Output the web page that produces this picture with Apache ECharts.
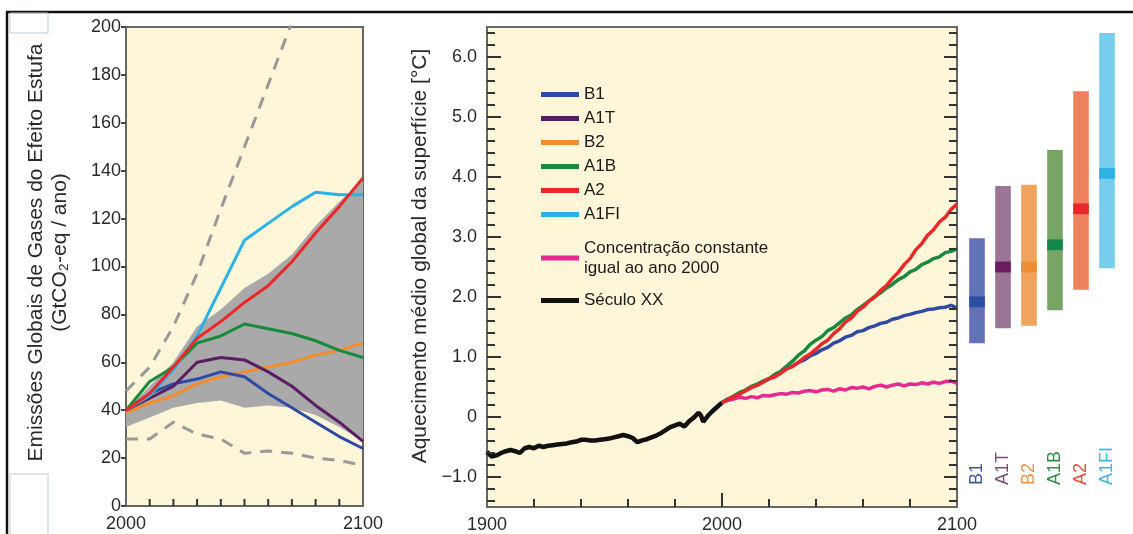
<!DOCTYPE html>
<html>
<head>
<meta charset="utf-8">
<script src="https://cdn.jsdelivr.net/npm/echarts@6/dist/echarts.min.js"></script>
<style>
  html, body { margin: 0; padding: 0; background: #fff; }
  #main { width: 1133px; height: 534px; }
</style>
</head>
<body>
<div id="main"></div>
<script>
// painel esquerdo: emissoes (GtCO2-eq / ano)
const emisYears = [2000, 2010, 2020, 2030, 2040, 2050, 2060, 2070, 2080, 2090, 2100];
const emisB1 = [40, 47, 51, 53, 56, 54, 47, 41, 35, 29, 24];
const emisA1T = [40, 45, 50, 60, 62, 61, 56, 50, 42, 35, 27];
const emisB2 = [39, 43, 46, 51, 54, 56, 58, 60, 63, 65, 68];
const emisA1B = [40, 52, 58, 68, 71, 76, 74, 72, 69, 65, 62];
const emisA2 = [40, 47, 58, 70, 77, 85, 92, 102, 114, 125, 137];
const emisA1FI = [40, 46, 57, 71, 91, 111, 118, 125, 131, 130, 130];
const bandLow = [33, 37, 41, 43, 44, 41, 42, 41, 38, 33, 27];
const bandHigh = [40, 50, 60, 75, 82, 91, 97, 105, 117, 127, 136];
const dashHighYears = [2000, 2010, 2020, 2030, 2040, 2050, 2060, 2070, 2080];
const dashHigh = [48, 58, 75, 97, 124, 150, 176, 202, 228];
const dashLow = [28, 28, 35, 30, 28, 22, 23, 22, 20, 19, 17];
const emisTickYears = [2010, 2020, 2030, 2040, 2050, 2060, 2070, 2080, 2090];

// painel central: aquecimento (graus C)
const histYears = [1900, 1902, 1904, 1906, 1908, 1910, 1912, 1914, 1916, 1918, 1920, 1922, 1924, 1926, 1928,
  1930, 1932, 1934, 1936, 1938, 1940, 1942, 1944, 1946, 1948, 1950, 1952, 1954, 1956, 1958, 1960, 1962,
  1964, 1966, 1968, 1970, 1972, 1974, 1976, 1978, 1980, 1982, 1984, 1986, 1988, 1990, 1991, 1992, 1994,
  1996, 1998, 2000];
const histTemp = [-0.58, -0.66, -0.64, -0.6, -0.57, -0.55, -0.57, -0.6, -0.52, -0.5, -0.52, -0.48, -0.5, -0.48, -0.47,
  -0.46, -0.45, -0.44, -0.42, -0.41, -0.38, -0.38, -0.39, -0.39, -0.38, -0.37, -0.36, -0.34, -0.32, -0.3, -0.32, -0.35,
  -0.42, -0.39, -0.37, -0.34, -0.31, -0.27, -0.22, -0.17, -0.14, -0.11, -0.16, -0.07, -0.01, 0.07, 0.03, -0.08, 0.02,
  0.1, 0.17, 0.24];
const projYears = [2000, 2002.5, 2005, 2007.5, 2010, 2012.5, 2015, 2017.5, 2020, 2022.5, 2025, 2027.5, 2030, 2032.5,
  2035, 2037.5, 2040, 2042.5, 2045, 2047.5, 2050, 2052.5, 2055, 2057.5, 2060, 2062.5, 2065, 2067.5, 2070, 2072.5,
  2075, 2077.5, 2080, 2082.5, 2085, 2087.5, 2090, 2092.5, 2095, 2097.5, 2100];
const tempA2 = [0.24, 0.29, 0.34, 0.38, 0.44, 0.49, 0.53, 0.58, 0.64, 0.67, 0.73, 0.8, 0.84, 0.91, 0.99, 1.05, 1.13,
  1.22, 1.28, 1.39, 1.47, 1.58, 1.65, 1.76, 1.83, 1.93, 2.0, 2.11, 2.19, 2.31, 2.41, 2.54, 2.64, 2.79, 2.89, 3.03,
  3.12, 3.25, 3.33, 3.46, 3.55];
const tempA1B = [0.24, 0.3, 0.35, 0.41, 0.45, 0.51, 0.55, 0.6, 0.64, 0.71, 0.76, 0.85, 0.93, 1.03, 1.1, 1.21, 1.28,
  1.34, 1.44, 1.49, 1.57, 1.65, 1.7, 1.79, 1.86, 1.93, 2.01, 2.07, 2.15, 2.21, 2.29, 2.34, 2.42, 2.46, 2.54, 2.58,
  2.64, 2.67, 2.74, 2.76, 2.8];
const tempB1 = [0.24, 0.3, 0.34, 0.4, 0.44, 0.5, 0.53, 0.59, 0.63, 0.7, 0.74, 0.81, 0.85, 0.91, 0.95, 1.02, 1.06,
  1.12, 1.16, 1.23, 1.27, 1.33, 1.36, 1.42, 1.44, 1.49, 1.52, 1.56, 1.58, 1.63, 1.65, 1.69, 1.71, 1.74, 1.76, 1.79,
  1.8, 1.82, 1.83, 1.86, 1.82];
const tempConst = [0.24, 0.28, 0.3, 0.33, 0.31, 0.34, 0.32, 0.36, 0.35, 0.37, 0.39, 0.38, 0.41, 0.4, 0.43, 0.44,
  0.42, 0.45, 0.46, 0.43, 0.47, 0.45, 0.49, 0.48, 0.5, 0.47, 0.51, 0.53, 0.5, 0.53, 0.55, 0.52, 0.55, 0.54, 0.57,
  0.55, 0.58, 0.56, 0.59, 0.6, 0.56];
const tempMajorTicks = [-1, 0, 1, 2, 3, 4, 5, 6];
const tempMinorTicks = [-1.4, -1.2, -0.8, -0.6, -0.4, -0.2, 0.2, 0.4, 0.6, 0.8, 1.2, 1.4, 1.6, 1.8, 2.2, 2.4,
  2.6, 2.8, 3.2, 3.4, 3.6, 3.8, 4.2, 4.4, 4.6, 4.8, 5.2, 5.4, 5.6, 5.8, 6.2, 6.4];
const yearTicks = [1920, 1940, 1960, 1980, 2000, 2020, 2040, 2060, 2080];

// barras: faixa provavel em 2090-2099
const barCats = ['B1', 'A1T', 'B2', 'A1B', 'A2', 'A1FI'];
const barLow = [1.23, 1.48, 1.52, 1.78, 2.12, 2.48];
const barHigh = [2.98, 3.85, 3.87, 4.45, 5.43, 6.4];
const barBest = [1.92, 2.5, 2.5, 2.87, 3.47, 4.06];

const FONT = "'Liberation Sans', Arial, sans-serif";
const BG = '#fdf6d8';
const C = {
  B1: '#2f4aa6', A1T: '#5b1d62', B2: '#f28c2c', A1B: '#188a3e',
  A2: '#ec2727', A1FI: '#26b4e8', CONST: '#e52b91', HIST: '#111111'
};
const rangeColors = ['#6272b6', '#9b7595', '#f0a35e', '#76a566', '#ee8260', '#78ccee'];
const bestColors = ['#2c4ea2', '#6b1b5f', '#ee8d33', '#13874a', '#e9262c', '#2db2e6'];
const labelColors = ['#3a56a8', '#7b4f7a', '#f0944a', '#2f8f47', '#ee4b3a', '#3cb8e8'];
const TEMP_MIN = -1.5, TEMP_MAX = 6.5;

const pair = (xs, ys) => ys.map((v, i) => [xs[i], v]);
const CONST_NAME = 'Concentração constante igual ao ano 2000';

const myChart = echarts.init(document.getElementById('main'));

const leftLine = (name, ys, color) => ({
  name: name, type: 'line', xAxisIndex: 0, yAxisIndex: 0, data: pair(emisYears, ys),
  showSymbol: false, color: color, lineStyle: { color: color, width: 3 }, z: 5
});
const midLine = (name, xs, ys, color, w) => ({
  name: name, type: 'line', xAxisIndex: 1, yAxisIndex: 1, data: pair(xs, ys),
  showSymbol: false, color: color, lineStyle: { color: color, width: w || 3.5 }, z: 5
});

// marcas internas: pequenos segmentos na escala dos eixos (comprimento em px convertido)
const YR_PX = 200 / 470, DEG_PX = (TEMP_MAX - TEMP_MIN) / 480, EMIS_PX = 200 / 479;
const tick = (xi, yi, p1, p2) => ({
  type: 'line', xAxisIndex: xi, yAxisIndex: yi, data: [p1, p2], showSymbol: false, silent: true,
  z: 8, lineStyle: { color: '#333', width: 2 }
});
const tickSeries = [].concat(
  tempMajorTicks.map((v) => tick(1, 1, [1900, v], [1900 + 14 * YR_PX, v])),
  tempMajorTicks.map((v) => tick(1, 1, [2100, v], [2100 - 13 * YR_PX, v])),
  tempMinorTicks.map((v) => tick(1, 1, [1900, v], [1900 + 8 * YR_PX, v])),
  tempMinorTicks.map((v) => tick(1, 1, [2100, v], [2100 - 8 * YR_PX, v])),
  yearTicks.map((y) => tick(1, 1, [y, TEMP_MIN], [y, TEMP_MIN + (y === 2000 ? 14 : 8) * DEG_PX])),
  emisTickYears.map((y) => tick(0, 0, [y, 0], [y, 7 * EMIS_PX]))
);

const tempLabel = (v) => {
  if (v === 0) return '0';
  if (!Number.isInteger(v)) return '';
  return (v < 0 ? '\u2212' : '') + Math.abs(v).toFixed(1);
};

const AXIS_LINE = { onZero: false, lineStyle: { color: '#666', width: 2 } };

const option = {
  animation: false,
  textStyle: { fontFamily: FONT },
  grid: [
    { left: 126, top: 27, width: 237, height: 479, show: true, backgroundColor: BG, borderColor: '#666', borderWidth: 2 },
    { left: 487, top: 27, width: 470, height: 480, show: true, backgroundColor: BG, borderColor: '#666', borderWidth: 2 },
    { left: 964, top: 27, width: 156, height: 480 },
    { left: 964, top: 485, width: 156, height: 10 }
  ],
  legend: [
    {
      data: ['B1', 'A1T', 'B2', 'A1B', 'A2', 'A1FI'], orient: 'vertical', left: 536, top: 81,
      itemWidth: 38, itemHeight: 5, itemGap: 7, icon: 'rect', selectedMode: false,
      textStyle: { fontFamily: FONT, fontSize: 17, color: '#1a1a1a' }
    },
    {
      data: [CONST_NAME], orient: 'vertical', left: 536, top: 223,
      itemWidth: 38, itemHeight: 5, icon: 'rect', selectedMode: false,
      formatter: () => 'Concentração constante\nigual ao ano 2000',
      textStyle: { fontFamily: FONT, fontSize: 17, lineHeight: 20, color: '#1a1a1a', padding: [20, 0, 0, 0] }
    },
    {
      data: ['Século XX'], orient: 'vertical', left: 536, top: 287,
      itemWidth: 38, itemHeight: 5, icon: 'rect', selectedMode: false,
      textStyle: { fontFamily: FONT, fontSize: 17, color: '#1a1a1a' }
    }
  ],
  xAxis: [
    {
      gridIndex: 0, type: 'value', min: 2000, max: 2100, interval: 10,
      axisLine: AXIS_LINE, axisTick: { show: false },
      axisLabel: { margin: 9, fontSize: 18, color: '#2a2a2a', formatter: (v) => (v === 2000 || v === 2100) ? String(v) : '' },
      splitLine: { show: false }
    },
    {
      gridIndex: 1, type: 'value', min: 1900, max: 2100, interval: 20,
      axisLine: AXIS_LINE, axisTick: { show: false },
      axisLabel: { margin: 9, fontSize: 18, color: '#2a2a2a', formatter: (v) => (v % 100 === 0) ? String(v) : '' },
      splitLine: { show: false }
    },
    { gridIndex: 2, type: 'category', data: barCats, show: false },
    {
      gridIndex: 3, type: 'category', data: barCats, position: 'top',
      axisLine: { show: false }, axisTick: { show: false },
      axisLabel: {
        rotate: 90, margin: 0, interval: 0,
        formatter: (v, i) => '{c' + i + '|' + v + '}',
        rich: Object.fromEntries(labelColors.map((c, i) => ['c' + i, { color: c, fontSize: 18, fontFamily: FONT }]))
      }
    }
  ],
  yAxis: [
    {
      gridIndex: 0, type: 'value', min: 0, max: 200, interval: 20,
      name: 'Emissões Globais de Gases do Efeito Estufa\n(GtCO\u2082-eq / ano)',
      nameLocation: 'middle', nameRotate: 90, nameGap: 54,
      nameTextStyle: { fontSize: 21, lineHeight: 24, color: '#2a2a2a', padding: [0, 0, 0, 28] },
      axisLine: Object.assign({ show: true }, AXIS_LINE),
      axisTick: { show: true, length: 5, lineStyle: { color: '#444', width: 2 } },
      axisLabel: { margin: 5, fontSize: 18, color: '#2a2a2a' },
      splitLine: { show: false }
    },
    {
      gridIndex: 1, type: 'value', min: TEMP_MIN, max: TEMP_MAX, minInterval: 1, maxInterval: 1,
      name: 'Aquecimento médio global da superfície [°C]',
      nameLocation: 'middle', nameRotate: 90, nameGap: 56,
      nameTextStyle: { fontSize: 21, color: '#2a2a2a', padding: [0, 0, 0, 22] },
      axisLine: Object.assign({ show: true }, AXIS_LINE), axisTick: { show: false },
      axisLabel: { margin: 10, fontSize: 18, color: '#2a2a2a', formatter: tempLabel },
      splitLine: { show: false }
    },
    { gridIndex: 2, type: 'value', min: TEMP_MIN, max: TEMP_MAX, show: false },
    { gridIndex: 3, type: 'value', show: false }
  ],
  series: [
    // faixa cinza entre bandLow e bandHigh
    {
      type: 'custom', xAxisIndex: 0, yAxisIndex: 0, data: [[2000, 40]], silent: true, z: 2,
      renderItem: function (params, api) {
        const top = emisYears.map((y, i) => api.coord([y, bandHigh[i]]));
        const bottom = emisYears.map((y, i) => api.coord([y, bandLow[i]])).reverse();
        return { type: 'polygon', shape: { points: top.concat(bottom) }, style: { fill: '#a9a9a9' } };
      }
    },
    {
      type: 'line', xAxisIndex: 0, yAxisIndex: 0, data: pair(dashHighYears, dashHigh), showSymbol: false,
      lineStyle: { color: '#999', width: 3, type: [12, 9] }, z: 3
    },
    {
      type: 'line', xAxisIndex: 0, yAxisIndex: 0, data: pair(emisYears, dashLow), showSymbol: false,
      lineStyle: { color: '#999', width: 3, type: [12, 9] }, z: 3
    },
    leftLine('B2', emisB2, C.B2),
    leftLine('B1', emisB1, C.B1),
    leftLine('A1T', emisA1T, C.A1T),
    leftLine('A1B', emisA1B, C.A1B),
    leftLine('A1FI', emisA1FI, C.A1FI),
    leftLine('A2', emisA2, C.A2),
    midLine('Século XX', histYears, histTemp, C.HIST, 4.5),
    midLine(CONST_NAME, projYears, tempConst, C.CONST),
    midLine('B1', projYears, tempB1, C.B1),
    midLine('A1B', projYears, tempA1B, C.A1B),
    midLine('A2', projYears, tempA2, C.A2),
    {
      type: 'custom', xAxisIndex: 2, yAxisIndex: 2,
      data: barCats.map((c, i) => [i, barLow[i], barHigh[i], barBest[i]]),
      renderItem: function (params, api) {
        const i = api.value(0);
        const lo = api.coord([i, api.value(1)]);
        const hi = api.coord([i, api.value(2)]);
        const b1 = api.coord([i, api.value(3) + 0.09]);
        const b2 = api.coord([i, api.value(3) - 0.09]);
        const w = api.size([1, 0])[0] * 0.6;
        return {
          type: 'group',
          children: [
            { type: 'rect', shape: { x: lo[0] - w / 2, y: hi[1], width: w, height: lo[1] - hi[1] }, style: { fill: rangeColors[i] } },
            { type: 'rect', shape: { x: lo[0] - w / 2, y: b1[1], width: w, height: b2[1] - b1[1] }, style: { fill: bestColors[i] } }
          ]
        };
      }
    }
  ].concat(tickSeries),
  graphic: [
    { type: 'line', shape: { x1: 6, y1: 12, x2: 1133, y2: 12 }, style: { stroke: '#111', lineWidth: 2.5 }, silent: true },
    { type: 'line', shape: { x1: 7, y1: 12, x2: 7, y2: 534 }, style: { stroke: '#111', lineWidth: 2.5 }, silent: true },
    { type: 'rect', shape: { x: 10, y: 13, width: 38, height: 20 }, style: { fill: 'none', stroke: '#bccbd8', lineWidth: 1 }, silent: true },
    { type: 'rect', shape: { x: 10, y: 474, width: 38, height: 64 }, style: { fill: 'none', stroke: '#bccbd8', lineWidth: 1 }, silent: true }
  ]
};

myChart.setOption(option);
</script>
</body>
</html>
